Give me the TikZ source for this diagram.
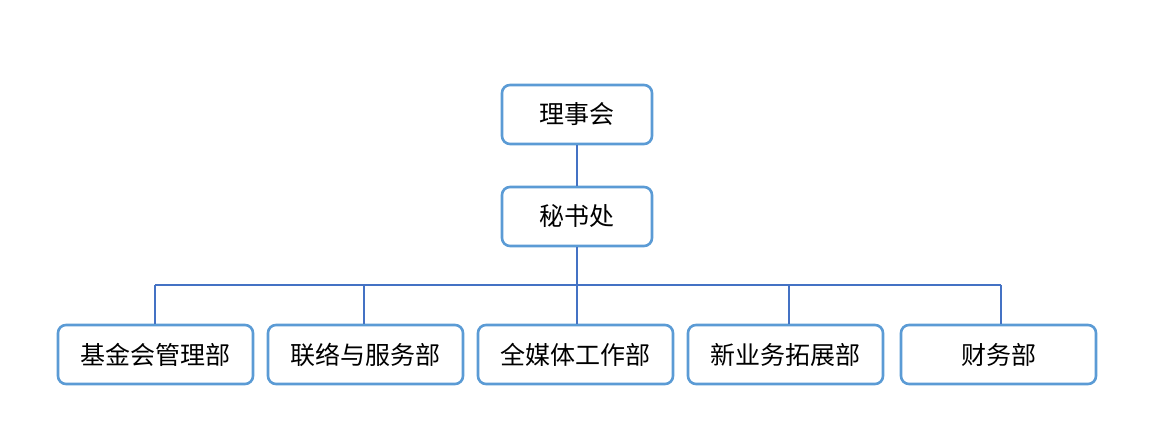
\documentclass[tikz,border=0pt]{standalone}
\usepackage{fontspec}
\setmainfont{Noto Sans CJK SC}
\definecolor{boxblue}{HTML}{5B9BD5}
\definecolor{lineblue}{HTML}{4472C4}
\begin{document}
\begin{tikzpicture}[x=1pt,y=1pt,
  orgbox/.style={draw=boxblue,line width=2.6pt,rounded corners=8pt,fill=white,
    minimum height=59pt,inner sep=0pt,font=\fontsize{25}{29}\selectfont},
  topbox/.style={orgbox,minimum width=150pt},
  deptbox/.style={orgbox,minimum width=195pt},
  link/.style={draw=lineblue,line width=1.4pt}]
\useasboundingbox (0,0) rectangle (1159,446);
\node[topbox] (board) at (577,331.5) {理事会};
\node[topbox] (sec) at (577,229.5) {秘书处};
\node[deptbox] (d1) at (155.5,91.5) {基金会管理部};
\node[deptbox] (d2) at (365.5,91.5) {联络与服务部};
\node[deptbox] (d3) at (575.5,91.5) {全媒体工作部};
\node[deptbox] (d4) at (785.5,91.5) {新业务拓展部};
\node[deptbox] (d5) at (998.5,91.5) {财务部};
\coordinate (b1) at (155,161);
\coordinate (b2) at (364,161);
\coordinate (bus) at (sec.south |- b1);
\coordinate (b4) at (789,161);
\coordinate (b5) at (1001,161);
\path[link] (board.south) -- (sec.north);
\path[link] (sec.south) -- (bus);
\path[link] (b1) -- (b5);
\path[link] (b1) -- (b1 |- d1.north);
\path[link] (b2) -- (b2 |- d2.north);
\path[link] (bus) -- (bus |- d3.north);
\path[link] (b4) -- (b4 |- d4.north);
\path[link] (b5) -- (b5 |- d5.north);
\end{tikzpicture}
\end{document}
